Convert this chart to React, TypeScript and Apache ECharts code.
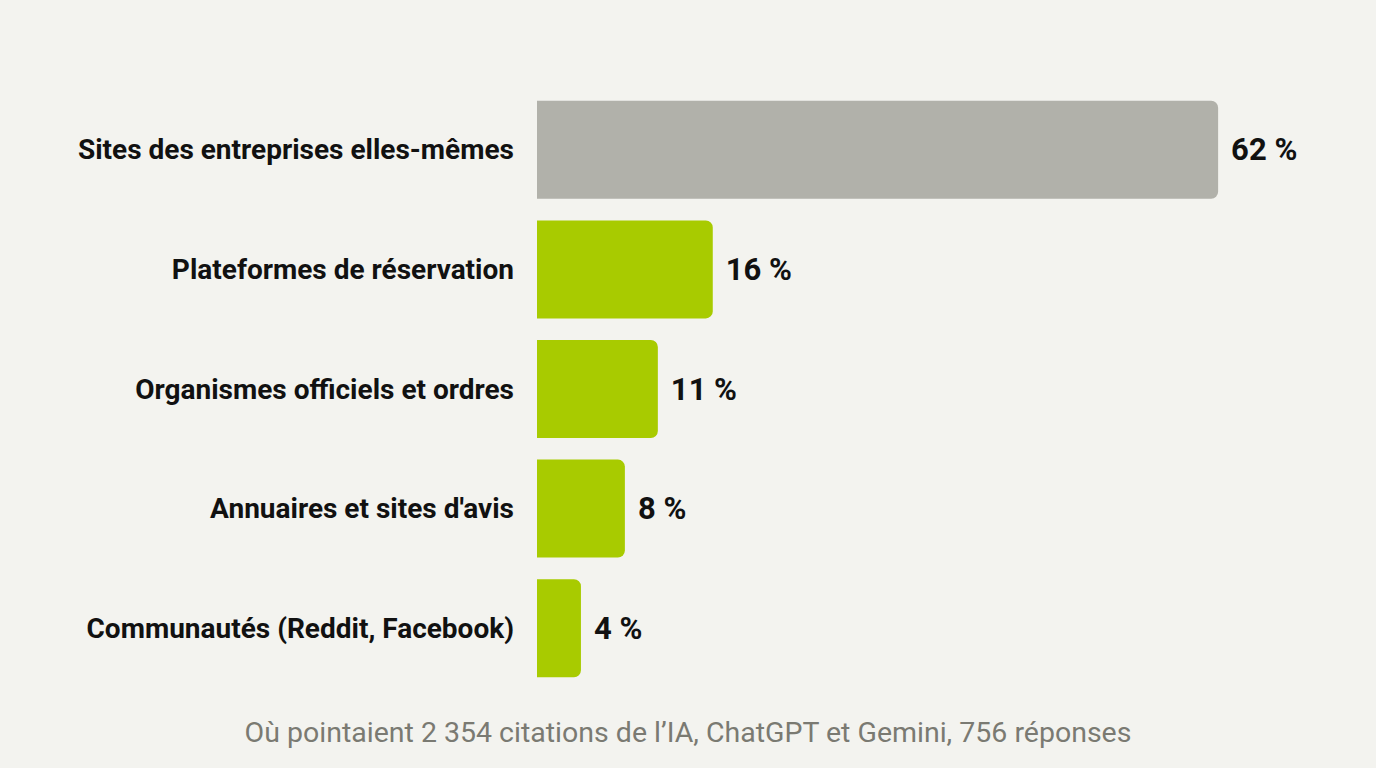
import React, { useEffect, useRef } from 'react';
import * as echarts from 'echarts';

// catégories, de haut en bas
const categories = [
  'Sites des entreprises elles-mêmes',
  'Plateformes de réservation',
  'Organismes officiels et ordres',
  "Annuaires et sites d'avis",
  'Communautés (Reddit, Facebook)',
];
const shares = [62, 16, 11, 8, 4];
const barColors = ['#b1b1aa', '#a8cb00', '#a8cb00', '#a8cb00', '#a8cb00'];
const caption = 'Où pointaient 2 354 citations de l’IA, ChatGPT et Gemini, 756 réponses';

const labelFont = 'Roboto, "Noto Sans", sans-serif';

const App = () => {
  const chartRef = useRef<HTMLDivElement>(null);

  useEffect(() => {
    document.body.style.margin = '0';
    if (!chartRef.current) return;
    const chart = echarts.init(chartRef.current, undefined, { renderer: 'svg' });

    chart.setOption({
      animation: false,
      backgroundColor: '#f3f3ef',
      title: {
        text: caption,
        left: 'center',
        bottom: 16,
        textStyle: {
          fontFamily: 'Roboto, sans-serif',
          fontSize: 28.5,
          fontWeight: 'normal',
          color: '#7a7a72',
        },
      },
      grid: {
        left: 537,
        right: 70,
        top: 90,
        bottom: 80,
        outerBoundsMode: 'none',
        containLabel: false,
      },
      xAxis: {
        type: 'value',
        min: 0,
        max: 70,
        show: false,
      },
      yAxis: {
        type: 'category',
        inverse: true,
        data: categories,
        axisLine: { show: false },
        axisTick: { show: false },
        axisLabel: {
          margin: 23,
          fontFamily: labelFont,
          fontSize: 28,
          fontWeight: 'bold',
          color: '#111111',
        },
      },
      series: [
        {
          type: 'bar',
          barWidth: 98,
          data: shares.map((v, i) => ({
            value: v,
            itemStyle: { color: barColors[i], borderRadius: [0, 7, 7, 0] },
          })),
          label: {
            show: true,
            position: 'right',
            distance: 13,
            formatter: (p: { value: number }) => `${p.value} %`,
            fontFamily: labelFont,
            fontSize: 31,
            fontWeight: 'bold',
            color: '#111111',
          },
        },
      ],
    });

    return () => {
      chart.dispose();
    };
  }, []);

  return <div ref={chartRef} style={{ width: 1376, height: 768 }} />;
};

export default App;
